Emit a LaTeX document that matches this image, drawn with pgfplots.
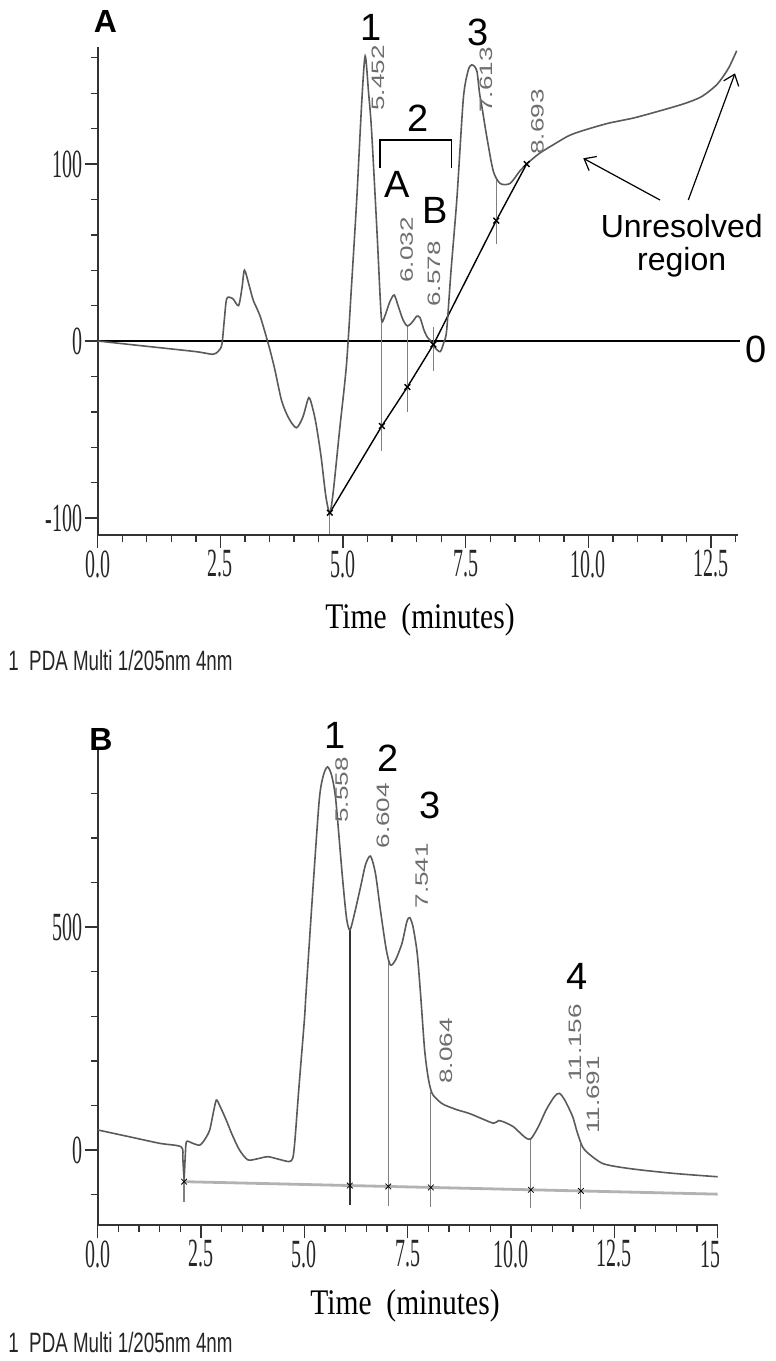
\documentclass[border=0pt]{standalone}
\usepackage{pgfplots}
\pgfplotsset{compat=1.18}
\usetikzlibrary{arrows.meta}
\usepackage{fontspec}
\setmainfont{Liberation Sans}
\newfontfamily\tickfont[FakeStretch=0.5]{Liberation Serif}
\newfontfamily\timefont[FakeStretch=0.82]{Liberation Serif}
\newfontfamily\pdafont[FakeStretch=0.67]{Liberation Sans}
\newfontfamily\rtfont[FakeStretch=1.45]{Liberation Sans}
\newfontfamily\labfont{Liberation Sans}
\definecolor{trace}{HTML}{5A5A5A}
\definecolor{rt}{HTML}{6E6E6E}
\definecolor{axc}{HTML}{333333}

\pgfplotsset{chrom/.style={
  scale only axis, anchor=south west, clip=false,
  axis x line*=bottom, axis y line*=left,
  axis line style={line width=1pt, axc, -},
  tick align=outside,
  major tick length=6.5pt, minor tick length=3.5pt,
  tick style={line width=0.7pt, axc},
  ticklabel style={font=\tickfont\fontsize{20}{20}\selectfont, text=black!85, inner sep=1pt},
  /pgf/number format/assume math mode=true,
}}

\begin{document}
\begin{tikzpicture}[x=0.5pt,y=0.5pt]
\path[use as bounding box] (0,0) rectangle (776,-1361);

% ---------------- Panel A ----------------
\begin{axis}[chrom,
  at={(48.85pt,-267.5pt)}, width=320pt, height=244pt,
  xmin=0, xmax=13.04, ymin=-109.6, ymax=166.1,
  xtick={0,2.5,5,7.5,10,12.5}, xticklabels={0.0,2.5,5.0,7.5,10.0,12.5},
  minor xtick={0,0.5,...,13},
  ytick={-100,0,100}, yticklabels={-100,0,100},
  minor ytick={-100,-80,...,160},
]
\addplot[black, line width=1pt] coordinates {(0,0) (13.09,0)};
\addplot[black, line width=0.7pt, mark=x, mark size=2pt, mark options={solid}]
  coordinates {(4.73,-97) (5.79,-48) (6.31,-26) (6.84,-2) (8.12,68) (8.74,100)};
\addplot[gray, line width=0.6pt] coordinates {(4.73,-97) (4.73,-109)};
\addplot[gray, line width=0.6pt] coordinates {(5.79,11) (5.79,-62)};
\addplot[gray, line width=0.6pt] coordinates {(6.31,8.5) (6.31,-40)};
\addplot[gray, line width=0.6pt] coordinates {(6.84,8) (6.84,-17)};
\addplot[gray, line width=0.6pt] coordinates {(8.12,92) (8.12,55)};
\addplot[trace, line width=0.8pt, smooth, tension=0.45] coordinates {
(0,0) (1.0,-3) (2.0,-6) (2.34,-7.5) (2.45,-6) (2.53,-2) (2.58,12) (2.63,24) (2.75,24)
(2.87,20) (2.94,30) (2.99,40) (3.08,32) (3.17,23) (3.31,14) (3.48,-2) (3.6,-15)
(3.75,-34) (3.9,-44) (4.05,-49) (4.18,-43) (4.3,-32) (4.38,-38) (4.45,-47) (4.55,-65)
(4.65,-88) (4.73,-97) (4.8,-85) (4.93,-50) (5.07,-13) (5.18,35) (5.28,81) (5.38,135)
(5.45,161) (5.52,140) (5.58,119) (5.69,62) (5.76,22) (5.79,11) (5.85,14) (5.95,22)
(6.04,26) (6.12,20) (6.22,12) (6.31,8.5) (6.42,11) (6.5,14) (6.57,13) (6.65,6)
(6.72,2) (6.79,0) (6.88,-4) (6.98,-6) (7.05,-1) (7.11,6) (7.2,40) (7.32,81)
(7.45,137) (7.55,153) (7.62,156) (7.68,155) (7.73,152) (7.78,140) (7.83,132)
(7.93,115) (8.06,96) (8.2,89) (8.4,89) (8.6,96) (8.74,100) (9.0,106) (9.29,111)
(9.6,116) (9.9,119) (10.4,123) (10.92,126) (11.45,130) (11.94,134) (12.3,138)
(12.62,145) (12.85,154) (13.02,164)};
\end{axis}

% ---------------- Panel B ----------------
\begin{axis}[chrom,
  at={(48.85pt,-612.5pt)}, width=310pt, height=237.5pt,
  xmin=0, xmax=15, ymin=-168.2, ymax=896.9,
  xtick={0,2.5,5,7.5,10,12.5,15}, xticklabels={0.0,2.5,5.0,7.5,10.0,12.5,15.0},
  minor xtick={0,0.5,...,15},
  ytick={0,500}, yticklabels={0,500},
  minor ytick={-100,0,...,800},
]
\addplot[gray!60, line width=1.4pt] coordinates {(2.09,-71) (15,-99)};
\addplot[only marks, black, mark=x, mark size=2pt]
  coordinates {(2.09,-71) (6.10,-79.7) (7.03,-81.7) (8.06,-84) (10.48,-89.2) (11.69,-91.8)};
\addplot[gray, line width=0.6pt] coordinates {(2.09,-60) (2.09,-116)};
\addplot[black!80, line width=0.7pt] coordinates {(6.10,493) (6.10,-123)};
\addplot[gray, line width=0.6pt] coordinates {(7.03,430) (7.03,-125)};
\addplot[gray, line width=0.6pt] coordinates {(8.06,130) (8.06,-127)};
\addplot[gray, line width=0.6pt] coordinates {(10.48,25) (10.48,-130)};
\addplot[gray, line width=0.6pt] coordinates {(11.69,14) (11.69,-133)};
\addplot[trace, line width=0.8pt, smooth, tension=0.45] coordinates {
(0,45) (0.75,30) (1.5,15) (2.02,7) (2.06,-20) (2.09,-62) (2.12,-10) (2.15,19) (2.3,15)
(2.47,11) (2.6,25) (2.71,45) (2.8,85) (2.87,112) (2.95,100) (3.11,67) (3.25,35)
(3.43,0) (3.63,-22) (3.85,-20) (4.11,-15) (4.35,-20) (4.63,-26) (4.72,-18) (4.77,20)
(4.87,142) (5.0,291) (5.04,351) (5.2,576) (5.36,785) (5.46,840) (5.56,859) (5.66,840)
(5.76,785) (5.92,613) (6.02,520) (6.1,493) (6.2,525) (6.36,590) (6.48,640) (6.6,659)
(6.72,620) (6.84,538) (6.98,450) (7.08,415) (7.2,425) (7.36,463) (7.48,512) (7.55,521)
(7.63,500) (7.73,441) (7.81,351) (7.91,224) (8.0,160) (8.09,127) (8.25,110) (8.39,101)
(8.7,90) (8.99,82) (9.3,70) (9.58,60) (9.7,66) (9.85,62) (10.06,52) (10.2,40)
(10.36,27) (10.48,25) (10.66,52) (10.85,90) (11.05,120) (11.17,127) (11.3,112)
(11.49,75) (11.6,40) (11.73,7) (11.9,-10) (12.21,-30) (12.6,-38) (13.16,-45)
(14.0,-53) (15,-60)};
\end{axis}

\begin{scope}[yscale=-1, every node/.style={inner sep=0pt}]
% crop of the last tick label (the original figure is cut there)
\fill[white] (719,1236) rectangle (776,1292);
% ---------------- Annotations A ----------------
\node[font=\labfont\bfseries\fontsize{16}{16}\selectfont] at (105.5,21.7) {A};
\node[font=\labfont\fontsize{19}{19}\selectfont] at (371,27) {1};
\node[font=\labfont\fontsize{19}{19}\selectfont] at (418.3,118.3) {2};
\node[font=\labfont\fontsize{19}{19}\selectfont] at (478,32.5) {3};
\node[font=\labfont\fontsize{19}{19}\selectfont] at (396.7,184) {A};
\node[font=\labfont\fontsize{19}{19}\selectfont] at (435,210) {B};
\node[font=\labfont\fontsize{19}{19}\selectfont] at (756,349) {0};
\draw[black, line width=0.6pt] (380,168) -- (380,140) -- (451.7,140) -- (451.7,168);
\node[font=\labfont\fontsize{16}{16}\selectfont] at (681.7,226) {Unresolved};
\node[font=\labfont\fontsize{16}{16}\selectfont] at (681.7,262) {region};
\draw[-{Straight Barb[length=5pt,width=8pt]}, line width=0.6pt] (660,200) -- (583.3,158.3);
\draw[-{Straight Barb[length=5pt,width=8pt]}, line width=0.6pt] (688.3,200) -- (735,73.3);
\node[font=\rtfont\fontsize{9}{9}\selectfont, text=rt, rotate=90] at (378,78) {5.452};
\node[font=\rtfont\fontsize{9}{9}\selectfont, text=rt, rotate=90] at (406.7,250) {6.032};
\node[font=\rtfont\fontsize{9}{9}\selectfont, text=rt, rotate=90] at (434,274) {6.578};
\node[font=\rtfont\fontsize{9}{9}\selectfont, text=rt, rotate=90] at (486,80) {7.613};
\node[font=\rtfont\fontsize{9}{9}\selectfont, text=rt, rotate=90] at (537.5,122) {8.693};
\node[font=\timefont\fontsize{18}{18}\selectfont] at (420,620) {Time~~(minutes)};
\node[font=\pdafont\fontsize{14}{14}\selectfont, anchor=west, text=black!85] at (8,660) {1~~PDA Multi 1/205nm 4nm};
% ---------------- Annotations B ----------------
\node[font=\labfont\bfseries\fontsize{16}{16}\selectfont] at (101,739) {B};
\node[font=\labfont\fontsize{19}{19}\selectfont] at (335,735) {1};
\node[font=\labfont\fontsize{19}{19}\selectfont] at (388.3,758.3) {2};
\node[font=\labfont\fontsize{19}{19}\selectfont] at (430,805) {3};
\node[font=\labfont\fontsize{19}{19}\selectfont] at (577,976.7) {4};
\node[font=\rtfont\fontsize{9}{9}\selectfont, text=rt, rotate=90] at (341.7,790) {5.558};
\node[font=\rtfont\fontsize{9}{9}\selectfont, text=rt, rotate=90] at (383,815.7) {6.604};
\node[font=\rtfont\fontsize{9}{9}\selectfont, text=rt, rotate=90] at (421.7,875.8) {7.541};
\node[font=\rtfont\fontsize{9}{9}\selectfont, text=rt, rotate=90] at (446,1051) {8.064};
\node[font=\rtfont\fontsize{9}{9}\selectfont, text=rt, rotate=90] at (575,1043) {11.156};
\node[font=\rtfont\fontsize{9}{9}\selectfont, text=rt, rotate=90] at (593,1095) {11.691};
\node[font=\timefont\fontsize{18}{18}\selectfont] at (405,1306) {Time~~(minutes)};
\node[font=\pdafont\fontsize{14}{14}\selectfont, anchor=west, text=black!85] at (8,1342) {1~~PDA Multi 1/205nm 4nm};
\end{scope}
\end{tikzpicture}
\end{document}
